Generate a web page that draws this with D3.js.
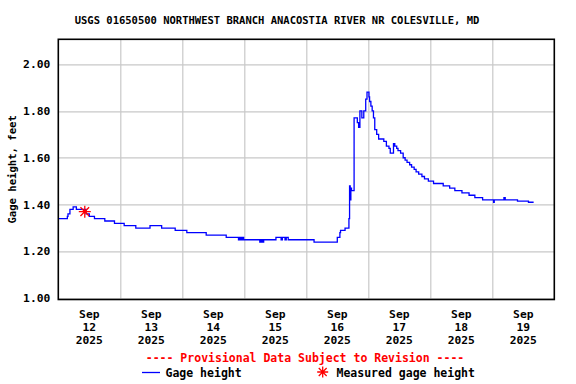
<!DOCTYPE html>
<html>
<head>
<meta charset="utf-8">
<script src="https://cdn.jsdelivr.net/npm/d3@7"></script>
<style>
  body { margin: 0; background: #fff; }
  text { font-family: 'DejaVu Sans Mono', monospace; font-weight: bold; }
</style>
</head>
<body>
<div id="chart"></div>
<script>
// gage height readings (step changes)
const gageTimes = [
  '2025-09-12 00:00', '2025-09-12 03:30', '2025-09-12 03:45', '2025-09-12 04:30', '2025-09-12 05:45',
  '2025-09-12 07:00', '2025-09-12 10:45', '2025-09-12 12:00', '2025-09-12 14:00', '2025-09-12 18:00',
  '2025-09-12 21:45', '2025-09-13 01:30', '2025-09-13 06:00', '2025-09-13 11:30', '2025-09-13 16:00',
  '2025-09-13 21:15', '2025-09-14 01:45', '2025-09-14 09:15', '2025-09-14 17:00', '2025-09-14 21:45',
  '2025-09-14 22:15', '2025-09-14 22:45', '2025-09-14 23:15', '2025-09-14 23:45', '2025-09-15 06:00',
  '2025-09-15 06:30', '2025-09-15 07:00', '2025-09-15 07:30', '2025-09-15 12:15', '2025-09-15 14:15',
  '2025-09-15 14:45', '2025-09-15 15:45', '2025-09-15 16:15', '2025-09-15 17:00', '2025-09-16 03:00',
  '2025-09-16 12:00', '2025-09-16 13:00', '2025-09-16 13:15', '2025-09-16 15:00', '2025-09-16 16:30',
  '2025-09-16 16:45', '2025-09-16 17:00', '2025-09-16 17:15', '2025-09-16 17:30', '2025-09-16 18:30',
  '2025-09-16 19:45', '2025-09-16 20:15', '2025-09-16 20:45', '2025-09-16 21:30', '2025-09-16 22:15',
  '2025-09-16 23:00', '2025-09-16 23:30', '2025-09-17 00:15', '2025-09-17 00:30', '2025-09-17 01:00',
  '2025-09-17 01:30', '2025-09-17 02:00', '2025-09-17 02:30', '2025-09-17 03:15', '2025-09-17 04:00',
  '2025-09-17 06:00', '2025-09-17 07:00', '2025-09-17 08:00', '2025-09-17 08:30', '2025-09-17 09:45',
  '2025-09-17 10:15', '2025-09-17 11:00', '2025-09-17 11:30', '2025-09-17 12:30', '2025-09-17 13:30',
  '2025-09-17 14:15', '2025-09-17 15:00', '2025-09-17 16:00', '2025-09-17 16:45', '2025-09-17 17:45',
  '2025-09-17 18:30', '2025-09-17 19:30', '2025-09-17 20:45', '2025-09-17 21:45', '2025-09-17 23:15',
  '2025-09-18 01:15', '2025-09-18 05:00', '2025-09-18 07:30', '2025-09-18 09:30', '2025-09-18 12:15',
  '2025-09-18 15:00', '2025-09-18 17:15', '2025-09-18 20:15', '2025-09-19 00:30', '2025-09-19 00:45',
  '2025-09-19 04:30', '2025-09-19 05:00', '2025-09-19 09:45', '2025-09-19 14:00', '2025-09-19 16:00'
];
const gageValues = [
  1.34, 1.35, 1.36, 1.38, 1.39,
  1.38, 1.36, 1.35, 1.34, 1.33,
  1.32, 1.31, 1.30, 1.31, 1.30,
  1.29, 1.28, 1.27, 1.26, 1.25,
  1.26, 1.25, 1.26, 1.25, 1.24,
  1.25, 1.24, 1.25, 1.26, 1.25,
  1.26, 1.25, 1.26, 1.25, 1.24,
  1.26, 1.28, 1.29, 1.30, 1.34,
  1.48, 1.42, 1.47, 1.46, 1.77,
  1.75, 1.73, 1.80, 1.77, 1.80,
  1.85, 1.88, 1.86, 1.84, 1.82,
  1.80, 1.77, 1.72, 1.70, 1.68,
  1.67, 1.65, 1.64, 1.62, 1.66,
  1.65, 1.64, 1.63, 1.62, 1.60,
  1.59, 1.58, 1.57, 1.56, 1.55,
  1.54, 1.53, 1.52, 1.51, 1.50,
  1.49, 1.48, 1.47, 1.46, 1.45,
  1.44, 1.43, 1.42, 1.41, 1.42,
  1.43, 1.42, 1.415, 1.41, 1.41
];
const measuredTimes = ['2025-09-12 10:15'];
const measuredValues = [1.37];

const yTicks = [1.00, 1.20, 1.40, 1.60, 1.80, 2.00];
const dayTicks = ['2025-09-12', '2025-09-13', '2025-09-14', '2025-09-15', '2025-09-16', '2025-09-17', '2025-09-18', '2025-09-19', '2025-09-20'];

const titleText = 'USGS 01650500 NORTHWEST BRANCH ANACOSTIA RIVER NR COLESVILLE, MD';
const yCaption = 'Gage height, feet';

draw();

function draw() {
  const W = 576, H = 384;
  const margin = { top: 39.3, right: 21.7, bottom: 84.5, left: 58.3 };
  const width = W - margin.left - margin.right;
  const height = H - margin.top - margin.bottom;

  const parseTime = d3.timeParse('%Y-%m-%d %H:%M');
  const parseDay = d3.timeParse('%Y-%m-%d');
  const days = dayTicks.map(parseDay);
  const gage = gageTimes.map((t, i) => ({ t: parseTime(t), v: gageValues[i] }));
  const measured = measuredTimes.map((t, i) => ({ t: parseTime(t), v: measuredValues[i] }));

  const svg = d3.select('#chart')
    .append('svg')
    .attr('width', W)
    .attr('height', H);

  const g = svg.append('g')
    .attr('transform', `translate(${margin.left},${margin.top})`);

  const x = d3.scaleTime()
    .domain([days[0], days[days.length - 1]])
    .range([0, width]);

  const y = d3.scaleLinear()
    .domain([0.9949, 2.1056])
    .range([height, 0]);

  // horizontal gridlines
  g.append('g')
    .selectAll('line')
    .data(yTicks)
    .enter()
    .append('line')
    .attr('x1', 0)
    .attr('x2', width)
    .attr('y1', d => Math.round(y(d)) + 0.5)
    .attr('y2', d => Math.round(y(d)) + 0.5)
    .style('stroke', '#c8c8c8')
    .style('stroke-width', 1.2);

  // vertical gridlines at midnight
  g.append('g')
    .selectAll('line')
    .data(days.slice(1, -1))
    .enter()
    .append('line')
    .attr('x1', d => Math.round(x(d)) + 0.5)
    .attr('x2', d => Math.round(x(d)) + 0.5)
    .attr('y1', 0)
    .attr('y2', height)
    .style('stroke', '#c8c8c8')
    .style('stroke-width', 1.2);

  // y tick labels
  g.append('g')
    .selectAll('text')
    .data(yTicks)
    .enter()
    .append('text')
    .attr('x', -8)
    .attr('y', d => y(d) + 4)
    .attr('text-anchor', 'end')
    .style('font-size', '11.3px')
    .text(d => d3.format('.2f')(d));

  // x tick labels, centred at noon
  const fmtMonth = d3.timeFormat('%b');
  const fmtDay = d3.timeFormat('%d');
  const fmtYear = d3.timeFormat('%Y');
  const xLabels = g.append('g')
    .selectAll('text')
    .data(days.slice(0, -1))
    .enter()
    .append('text')
    .attr('text-anchor', 'middle')
    .style('font-size', '11.3px');
  xLabels.append('tspan')
    .attr('x', d => x(d3.timeHour.offset(d, 12)))
    .attr('y', height + 18.5)
    .text(d => fmtMonth(d));
  xLabels.append('tspan')
    .attr('x', d => x(d3.timeHour.offset(d, 12)))
    .attr('y', height + 31.5)
    .text(d => fmtDay(d));
  xLabels.append('tspan')
    .attr('x', d => x(d3.timeHour.offset(d, 12)))
    .attr('y', height + 45)
    .text(d => fmtYear(d));

  // gage height line
  g.append('path')
    .datum(gage)
    .attr('d', d3.line()
      .curve(d3.curveStepAfter)
      .x(d => x(d.t))
      .y(d => y(d.v)))
    .style('fill', 'none')
    .style('stroke', '#0000ff')
    .style('stroke-width', 1.3);

  // measured gage height
  const star = (cx, cy, r) => {
    const a = r * 0.72;
    return `M${cx - r},${cy}L${cx + r},${cy}M${cx},${cy - r}L${cx},${cy + r}` +
      `M${cx - a},${cy - a}L${cx + a},${cy + a}M${cx - a},${cy + a}L${cx + a},${cy - a}`;
  };
  g.append('g')
    .selectAll('path')
    .data(measured)
    .enter()
    .append('path')
    .attr('d', d => star(x(d.t), y(d.v), 6))
    .style('stroke', '#ff0000')
    .style('stroke-width', 1.3)
    .style('fill', 'none');

  // plot frame
  g.append('rect')
    .attr('x', 0)
    .attr('y', 0)
    .attr('width', width)
    .attr('height', height)
    .style('fill', 'none')
    .style('stroke', '#000')
    .style('stroke-width', 1.6);

  // title
  svg.append('text')
    .attr('x', 277)
    .attr('y', 24)
    .attr('text-anchor', 'middle')
    .style('font-size', '10.5px')
    .text(titleText);

  // y caption
  svg.append('text')
    .attr('transform', `translate(16,${margin.top + height / 2}) rotate(-90)`)
    .attr('text-anchor', 'middle')
    .style('font-size', '10.6px')
    .text(yCaption);

  // legend
  svg.append('text')
    .attr('x', 305)
    .attr('y', 362)
    .attr('text-anchor', 'middle')
    .style('font-size', '11.5px')
    .style('fill', '#ff0000')
    .text('---- Provisional Data Subject to Revision ----');

  svg.append('line')
    .attr('x1', 142)
    .attr('x2', 160)
    .attr('y1', 372.5)
    .attr('y2', 372.5)
    .style('stroke', '#0000ff')
    .style('stroke-width', 1.3);
  svg.append('text')
    .attr('x', 165.5)
    .attr('y', 376.5)
    .style('font-size', '11.5px')
    .text('Gage height');

  svg.append('path')
    .attr('d', star(322.7, 372, 5.5))
    .style('stroke', '#ff0000')
    .style('stroke-width', 1.3)
    .style('fill', 'none');
  svg.append('text')
    .attr('x', 336.5)
    .attr('y', 376.5)
    .style('font-size', '11.5px')
    .text('Measured gage height');
}
</script>
</body>
</html>
